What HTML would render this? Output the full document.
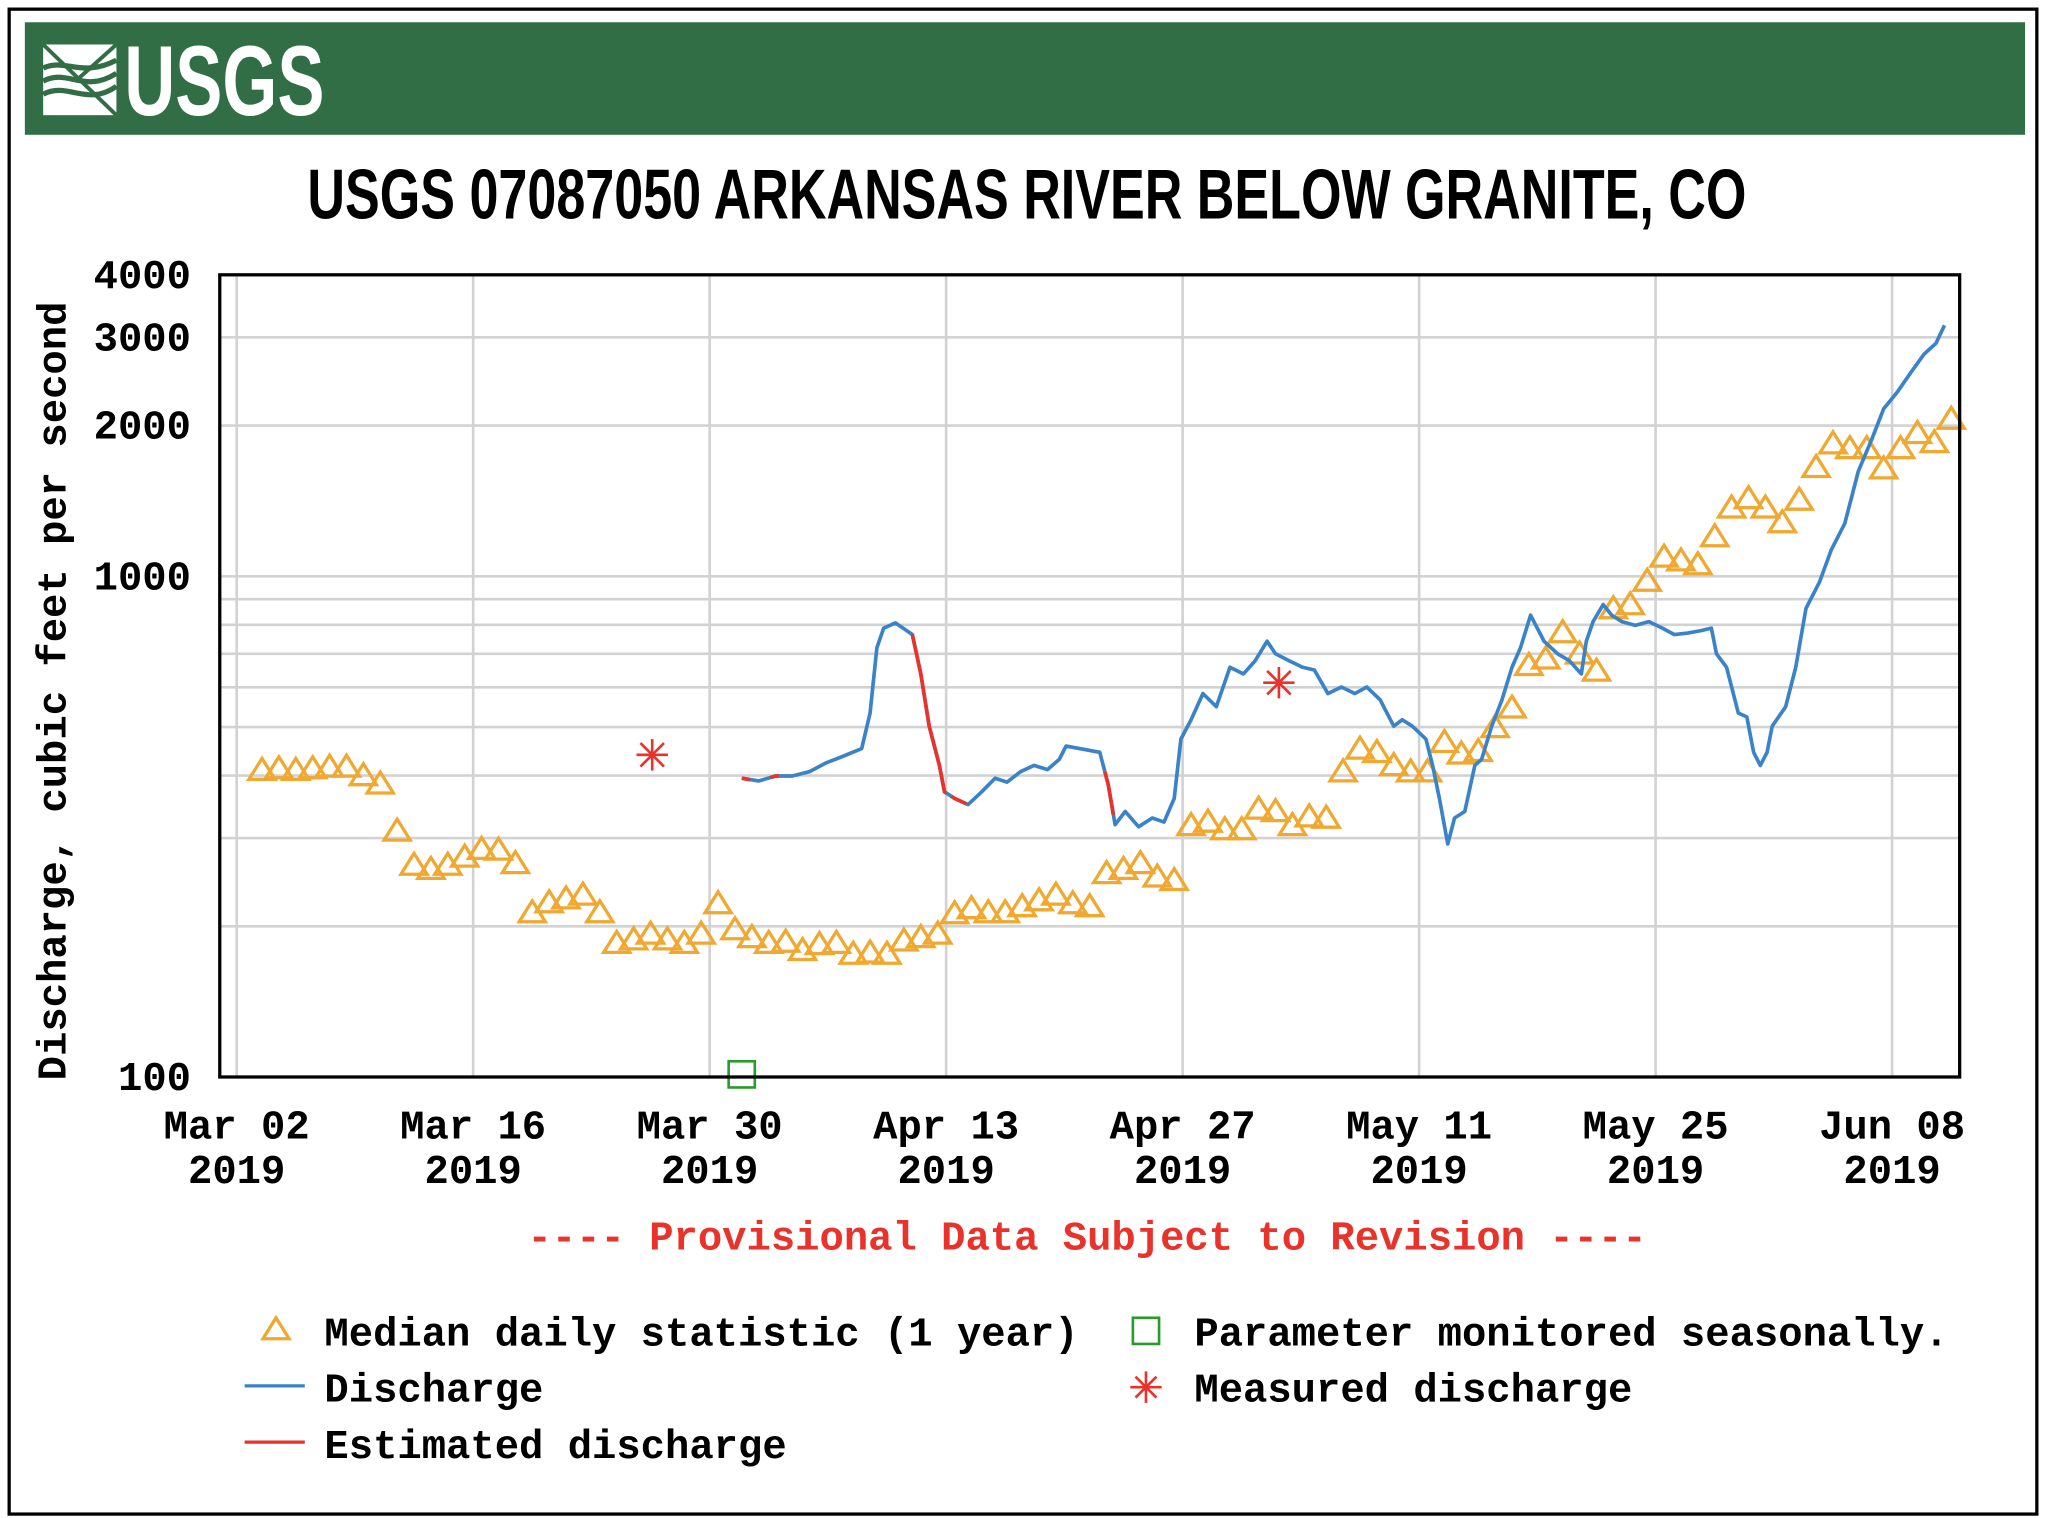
<!DOCTYPE html>
<html><head><meta charset="utf-8"><style>
html,body{margin:0;padding:0;background:#fff;}
svg{display:block;}
.mono{font-family:"Liberation Mono","DejaVu Sans Mono",monospace;font-weight:bold;}
</style></head><body>
<svg id="chart" width="2046" height="1518" viewBox="0 0 1564 1160" preserveAspectRatio="none" xmlns="http://www.w3.org/2000/svg">
<rect x="7" y="7" width="1550" height="1150" fill="#fff" stroke="#000" stroke-width="2.5"/>
<rect x="19" y="17" width="1529" height="86" fill="#326e45"/>
<g>
<rect x="33" y="34" width="56" height="54" fill="#fff"/>
<path d="M33 52 C50 44 62 60 89 46 M33 62 C52 52 64 72 89 56 M33 72 C52 62 66 82 89 66" stroke="#326e45" stroke-width="4" fill="none"/>
<path d="M33 34 L89 88 M89 34 L60 60" stroke="#326e45" stroke-width="3" fill="none"/>
<text x="95" y="88" fill="#fff" font-family="Liberation Sans,sans-serif" font-weight="bold" font-size="76" textLength="153" lengthAdjust="spacingAndGlyphs">USGS</text>
</g>
<text x="235" y="167" font-family="Liberation Sans,sans-serif" font-weight="bold" font-size="54" textLength="1100" lengthAdjust="spacingAndGlyphs">USGS 07087050 ARKANSAS RIVER BELOW GRANITE, CO</text>
<g id="grid"></g>
<g id="marks"></g>
<rect x="168" y="210" width="1330" height="613" fill="none" stroke="#000" stroke-width="2.5"/>
<g id="axes" class="mono" font-size="31"></g>
<text class="mono" font-size="31" transform="translate(50,528) rotate(-90)" text-anchor="middle">Discharge, cubic feet per second</text>
<text class="mono" font-size="31" x="831" y="955" text-anchor="middle" fill="#e8322a">---- Provisional Data Subject to Revision ----</text>
<g class="mono" font-size="31">
<g><path d="M211 1007 L201 1023 L221 1023 Z" fill="none" stroke="#f0a830" stroke-width="2.5"/><text x="248" y="1028">Median daily statistic (1 year)</text></g>
<g><rect x="866" y="1007" width="20" height="20" fill="none" stroke="#2a9a2a" stroke-width="2"/><text x="913" y="1028">Parameter monitored seasonally.</text></g>
<g><line x1="187" y1="1059" x2="233" y2="1059" stroke="#3a83c8" stroke-width="2.5"/><text x="248" y="1071">Discharge</text></g>
<g><path d="M876 1048 V1072 M864 1060 H888 M868 1052 L884 1068 M884 1052 L868 1068" stroke="#e8322a" stroke-width="2"/><text x="913" y="1071">Measured discharge</text></g>
<g><line x1="187" y1="1102" x2="233" y2="1102" stroke="#e8322a" stroke-width="2.5"/><text x="248" y="1114">Estimated discharge</text></g>
</g>
</svg>
<script>
// days since Mar 01 2019
const yTicks=[100,200,300,400,500,600,700,800,900,1000,2000,3000,4000];
const yLabels=[4000,3000,2000,1000,100];
const xTickDays=[1,15,29,43,57,71,85,99];
const xTickLabels=["Mar 02","Mar 16","Mar 30","Apr 13","Apr 27","May 11","May 25","Jun 08"];
const medianStartDay=2.5;
const medianValues=[410,413,410,413,416,416,400,385,310,265,260,265,275,285,284,267,213,223,227,231,213,185,188,193,188,185,193,222,197,190,185,186,179,184,185,176,177,176,187,190,193,212,217,213,213,219,225,231,222,219,255,260,267,251,247,318,323,312,312,343,339,318,331,329,407,452,445,419,407,407,466,442,447,499,546,664,684,772,700,647,862,878,978,1093,1074,1055,1200,1370,1430,1370,1280,1420,1650,1840,1800,1800,1640,1800,1930,1850,2060];
const dischargeDays=[30.9,31.9,32.9,33.9,34.9,35.9,36.9,38.0,38.5,38.9,39.3,40.0,41.0,41.5,42.0,42.6,42.9,43.5,44.3,45.1,45.9,46.6,47.4,48.2,49.0,49.7,50.1,50.9,52.1,52.6,53.0,53.6,54.4,55.2,55.9,56.5,56.9,57.5,58.2,59.0,59.8,60.6,61.3,62.0,62.5,63.3,64.1,64.8,65.6,66.4,67.2,67.9,68.7,69.5,70.0,70.6,71.4,71.8,72.2,72.7,73.1,73.7,74.3,74.7,75.3,75.9,76.5,77.0,77.6,78.4,79.2,79.9,80.6,80.9,81.3,81.9,82.4,83.0,83.8,84.6,85.4,86.1,86.9,87.7,88.3,88.6,89.2,89.9,90.4,90.8,91.2,91.6,91.9,92.7,93.3,93.9,94.7,95.4,96.2,97.0,97.8,98.5,99.3,100.1,100.9,101.6,102.1];
const dischargeValues=[395,390,399,399,407,424,437,453,533,720,788,807,765,638,502,419,371,360,350,371,395,388,407,419,411,431,458,453,445,383,319,339,316,329,323,360,473,517,583,549,658,638,678,742,700,678,658,650,583,601,583,601,566,502,517,502,473,419,360,292,329,339,419,431,502,566,658,720,836,742,700,678,638,742,812,878,836,812,798,812,788,765,770,779,788,700,658,533,524,445,419,445,502,549,658,862,973,1130,1275,1620,1880,2160,2330,2550,2780,2920,3170];
const estimatedRanges=[[30.9,31.4],[32.6,33.1],[41.0,43.0],[43.3,44.2],[52.4,52.9]];
const measuredDays=[25.6,62.7];
const measuredValues=[440,613];
const seasonalDays=[30.9];
const seasonalValues=[100];

const NS="http://www.w3.org/2000/svg";
const L=168,R=1498,T=210,B=823,DAYS=103;
const xS=d=>L+(R-L)*d/DAYS;
const yS=v=>B-(B-T)*(Math.log10(v)-2)/Math.log10(40);
function mk(tag,parent,attrs){const e=document.createElementNS(NS,tag);for(const k in attrs)e.setAttribute(k,attrs[k]);parent.appendChild(e);return e;}
const grid=document.getElementById('grid'),marks=document.getElementById('marks'),axes=document.getElementById('axes');
yTicks.forEach(v=>{const l=mk('line',grid,{x1:L,x2:R,y1:yS(v),y2:yS(v),stroke:'#d2d2d2','stroke-width':2});

});
xTickDays.forEach((d,i)=>{const l=mk('line',grid,{x1:xS(d),x2:xS(d),y1:T,y2:B,stroke:'#d2d2d2','stroke-width':2});


const t=mk('text',axes,{x:xS(d),y:870,'text-anchor':'middle'});t.textContent=xTickLabels[i];


const t2=mk('text',axes,{x:xS(d),y:904,'text-anchor':'middle'});t2.textContent='2019';

});
yLabels.forEach(v=>{const t=mk('text',axes,{x:146,y:yS(v)+10,'text-anchor':'end'});t.textContent=v;

});
// median triangles
medianValues.forEach((v,i)=>{const x=xS(medianStartDay+i),y=yS(v);
const p=mk('path',marks,{d:`M${x} ${y-9} L${x-10} ${y+7} L${x+10} ${y+7} Z`,fill:'none',stroke:'#f0a830','stroke-width':2.5});

});
// discharge line
let dpath=dischargeDays.map((d,i)=>(i?'L':'M')+xS(d).toFixed(1)+' '+yS(dischargeValues[i]).toFixed(1)).join(' ');
const dl=mk('path',marks,{d:dpath,fill:'none',stroke:'#3a83c8','stroke-width':2.8,'stroke-linejoin':'round'});


function valAt(d){for(let i=1;i<dischargeDays.length;i++){if(d<=dischargeDays[i]){const a=dischargeDays[i-1],b=dischargeDays[i];const f=(d-a)/(b-a);return Math.exp(Math.log(dischargeValues[i-1])*(1-f)+Math.log(dischargeValues[i])*f);}}return dischargeValues[dischargeValues.length-1];}
estimatedRanges.forEach(r=>{const pts=[r[0]];dischargeDays.forEach(d=>{if(d>r[0]&&d<r[1])pts.push(d);});pts.push(r[1]);
const p=mk('path',marks,{d:pts.map((d,i)=>(i?'L':'M')+xS(d).toFixed(1)+' '+yS(valAt(d)).toFixed(1)).join(' '),fill:'none',stroke:'#e8322a','stroke-width':2.8});

});
measuredDays.forEach((d,i)=>{const x=xS(d),y=yS(measuredValues[i]);
const p=mk('path',marks,{d:`M${x} ${y-12} V${y+12} M${x-12} ${y} H${x+12} M${x-9} ${y-9} L${x+9} ${y+9} M${x+9} ${y-9} L${x-9} ${y+9}`,stroke:'#e8322a','stroke-width':2});

});
seasonalDays.forEach((d,i)=>{const x=xS(d),y=yS(seasonalValues[i]);
const r=mk('rect',marks,{x:x-10,y:y-12,width:20,height:20,fill:'none',stroke:'#2a9a2a','stroke-width':2});

});
</script>
</body></html>
